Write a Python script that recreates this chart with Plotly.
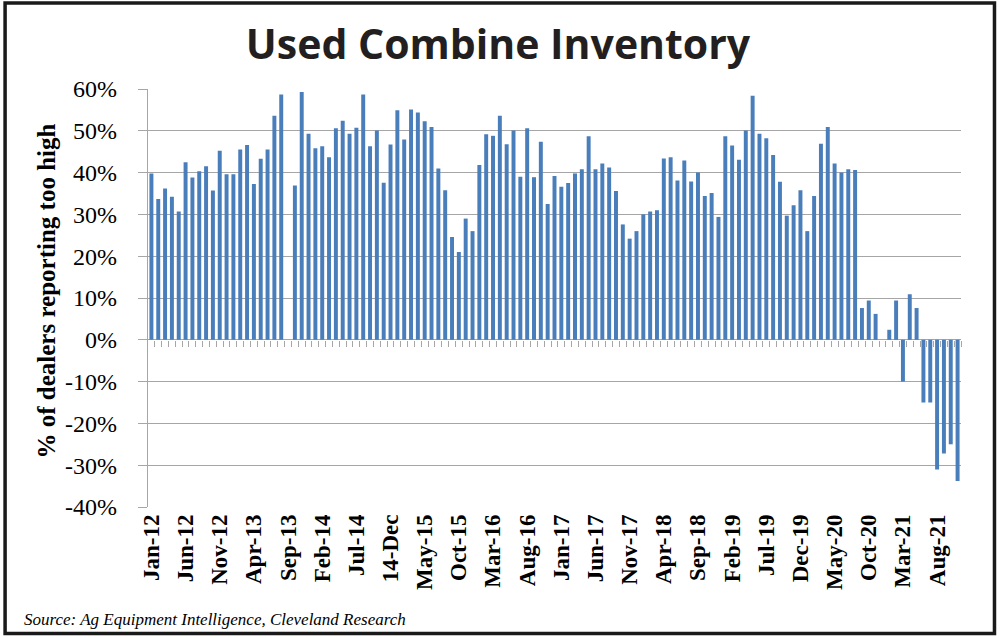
import plotly.graph_objects as go
import pandas as pd

# ---- data ----
months = [d.strftime("%b-%y") for d in pd.date_range("2012-01-01", periods=119, freq="MS")]
values = [
    39.8, 33.7, 36.2, 34.2, 30.7, 42.5, 38.8, 40.3, 41.5, 35.7,
    45.2, 39.6, 39.6, 45.5, 46.6, 37.3, 43.3, 45.5, 53.6, 58.7,
    None, 36.9, 59.3, 49.3, 45.8, 46.3, 43.7, 50.6, 52.4, 49.3,
    50.7, 58.7, 46.3, 50.1, 37.6, 46.7, 54.9, 47.9, 55.1, 54.4,
    52.3, 50.9, 41.0, 35.8, 24.6, 21.0, 29.0, 26.0, 41.8, 49.2,
    48.8, 53.6, 46.8, 50.1, 39.0, 50.6, 38.9, 47.4, 32.5, 39.2,
    36.6, 37.5, 39.8, 40.8, 48.7, 40.8, 42.2, 41.2, 35.6, 27.6,
    24.2, 26.0, 30.0, 30.7, 31.0, 43.4, 43.7, 38.1, 42.9, 37.9,
    40.0, 34.4, 35.1, 29.4, 48.7, 46.5, 43.1, 50.1, 58.4, 49.3,
    48.2, 44.2, 37.8, 29.7, 32.2, 35.8, 26.0, 34.4, 46.9, 50.9,
    42.2, 40.0, 40.8, 40.6, 7.6, 9.4, 6.2, None, 2.4, 9.4,
    -10.0, 10.9, 7.6, -15.0, -15.0, -31.0, -27.2, -25.0, -33.8,
]
tick_labels = ["Jan-12", "Jun-12", "Nov-12", "Apr-13", "Sep-13", "Feb-14", "Jul-14",
               "14-Dec", "May-15", "Oct-15", "Mar-16", "Aug-16", "Jan-17", "Jun-17",
               "Nov-17", "Apr-18", "Sep-18", "Feb-19", "Jul-19", "Dec-19", "May-20",
               "Oct-20", "Mar-21", "Aug-21"]
y_ticks = [60, 50, 40, 30, 20, 10, 0, -10, -20, -30, -40]
y_tick_labels = ["60%", "50%", "40%", "30%", "20%", "10%", "0%",
                 "-10%", "-20%", "-30%", "-40%"]

title = "Used Combine Inventory"
y_title = "% of dealers reporting too high"
source = "Source: Ag Equipment Intelligence, Cleveland Research"

# ---- figure ----
W, H = 1000, 638
L, R, T, B = 147.5, 39, 89.3, 131.3
pw, ph = W - L - R, H - T - B

def px_x(p):
    return (p - L) / pw

def px_y(p):
    return (H - B - p) / ph

idx = list(range(len(months)))
GRID = "#a6a6a6"
serif = "Liberation Serif"

fig = go.Figure()
fig.add_trace(go.Bar(
    x=idx, y=values, marker=dict(color="#4a7ebb", line=dict(width=0)),
    customdata=months, hovertemplate="%{customdata}: %{y:.1f}%<extra></extra>",
    showlegend=False,
))
# helper trace so that the zero-line tick axis is drawn
fig.add_trace(go.Scatter(
    x=idx, y=[0] * len(idx), xaxis="x2", mode="markers",
    marker=dict(opacity=0, size=1), hoverinfo="skip", showlegend=False,
))

fig.update_layout(
    width=W, height=H,
    margin=dict(l=L, r=R, t=T, b=B, pad=0),
    paper_bgcolor="white", plot_bgcolor="white",
    bargap=0.42,
    xaxis=dict(
        range=[-0.5, len(idx) - 0.5],
        tickmode="array",
        tickvals=idx[::5][:len(tick_labels)],
        ticktext=tick_labels,
        tickangle=-90,
        ticks="", showgrid=False, showline=False, zeroline=False,
        tickfont=dict(family=serif, size=23, color="black", weight="bold"),
        ticklabelstandoff=2,
    ),
    xaxis2=dict(
        overlaying="x", anchor="free", position=0.4,
        range=[-0.5, len(idx) - 0.5],
        tickmode="array", tickvals=[i + 0.5 for i in idx],
        ticks="outside", ticklen=6, tickwidth=1, tickcolor=GRID,
        showticklabels=False, showgrid=False, showline=False, zeroline=False,
        side="bottom",
    ),
    yaxis=dict(
        range=[-40, 60],
        tickmode="array", tickvals=y_ticks, ticktext=y_tick_labels,
        showgrid=True, gridcolor=GRID, gridwidth=1.2,
        zeroline=False,
        showline=True, linecolor=GRID, linewidth=1.2,
        ticks="outside", ticklen=9, tickcolor=GRID, tickwidth=1.2,
        tickfont=dict(family=serif, size=24, color="black"),
        ticklabelstandoff=16,
    ),
    title=dict(
        text=title, x=0.498, xanchor="center", xref="container",
        y=1 - 45 / H, yanchor="middle", yref="container",
        font=dict(family="Open Sans", size=41, color="#231f20", weight="bold"),
    ),
    annotations=[
        dict(text=y_title, textangle=-90, xref="paper", yref="paper",
             x=px_x(46), y=px_y(291), xanchor="center", yanchor="middle",
             showarrow=False,
             font=dict(family=serif, size=25, color="black", weight="bold")),
        dict(text="<i>" + source + "</i>", xref="paper", yref="paper",
             x=px_x(21), y=px_y(619), xanchor="left", yanchor="middle",
             showarrow=False,
             font=dict(family=serif, size=17, color="black")),
    ],
    shapes=[
        dict(type="rect", xref="paper", yref="paper",
             x0=px_x(4.5), x1=px_x(994.5), y0=px_y(633), y1=px_y(3.5),
             line=dict(color="#1a1a1a", width=3.5), fillcolor="rgba(0,0,0,0)"),
    ],
)

fig.write_html("out.html", config={"displayModeBar": False},
               post_script="document.body.style.margin='0px';")
